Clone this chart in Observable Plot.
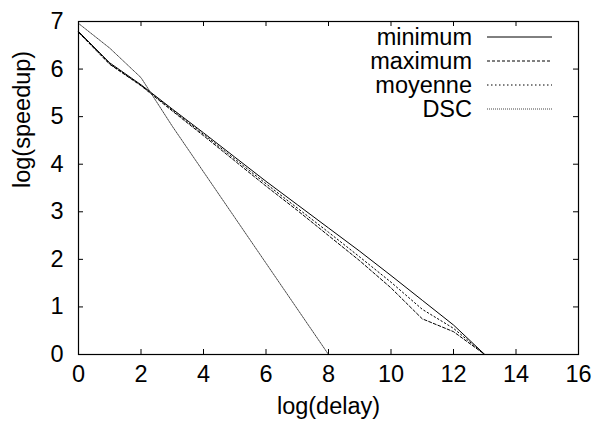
<!DOCTYPE html>
<html>
<head>
<meta charset="utf-8">
<script src="https://cdn.jsdelivr.net/npm/d3@7"></script>
<script src="https://cdn.jsdelivr.net/npm/@observablehq/plot@0.6"></script>
<style>
  html, body { margin: 0; padding: 0; background: #fff; }
  #chart svg { display: block; }
</style>
</head>
<body>
<div id="chart"></div>
<script>
// ---- data ----
const delay = [0, 1, 2, 3, 4, 5, 6, 7, 8, 9, 10, 11, 12, 13, 14, 15];
const minimum = [6.79, 6.13, 5.67, 5.16, 4.66, 4.15, 3.64, 3.15, 2.66, 2.17, 1.66, 1.14, 0.62, 0, 0, 0];
const maximum = [6.77, 6.10, 5.65, 5.12, 4.60, 4.07, 3.54, 3.03, 2.50, 1.97, 1.40, 0.75, 0.48, 0, 0, 0];
const moyenne = [6.78, 6.11, 5.66, 5.14, 4.63, 4.11, 3.59, 3.08, 2.57, 2.05, 1.52, 0.95, 0.55, 0, 0, 0];
const dscDelay = [0, 1, 2, 3, 4, 5, 6, 7, 8];
const dsc = [6.96, 6.44, 5.82, 4.80, 3.84, 2.88, 1.92, 0.96, 0];
const seriesNames = ["minimum", "maximum", "moyenne", "DSC"];
const xTicks = [0, 2, 4, 6, 8, 10, 12, 14, 16];
const yTicks = [0, 1, 2, 3, 4, 5, 6, 7];

const dashes = {minimum: null, maximum: "3,2", moyenne: "1.5,2.5", DSC: "1,1"};
const colors = {minimum: "#000", maximum: "#000", moyenne: "#000", DSC: "#444"};

const rows = [];
delay.forEach((d, i) => {
  rows.push({s: "minimum", x: d, y: minimum[i]});
  rows.push({s: "maximum", x: d, y: maximum[i]});
  rows.push({s: "moyenne", x: d, y: moyenne[i]});
});
dscDelay.forEach((d, i) => rows.push({s: "DSC", x: d, y: dsc[i]}));

const W = 597, H = 431;
const mL = 78, mR = 19, mT = 21, mB = 77;
const pw = W - mL - mR, ph = H - mT - mB;
const tl = 5;
const FONT = "'Liberation Sans', Arial, sans-serif";
const FS = 23.5;

const lineMarks = seriesNames.map(name => Plot.line(rows.filter(r => r.s === name), {
  x: "x", y: "y", stroke: colors[name], strokeWidth: 1,
  strokeDasharray: dashes[name]
}));

const chart = Plot.plot({
  width: W, height: H,
  marginLeft: mL, marginRight: mR, marginTop: mT, marginBottom: mB,
  style: {fontFamily: FONT, fontSize: FS + "px", background: "#fff", color: "#000"},
  x: {domain: [0, 16], axis: null},
  y: {domain: [0, 7], axis: null},
  marks: [
    // inward ticks on all four sides
    Plot.tickX(xTicks, {x: d => d, insetTop: ph - tl, stroke: "#000"}),
    Plot.tickX(xTicks, {x: d => d, insetBottom: ph - tl, stroke: "#000"}),
    Plot.tickY(yTicks, {y: d => d, insetRight: pw - tl, stroke: "#000"}),
    Plot.tickY(yTicks, {y: d => d, insetLeft: pw - tl, stroke: "#000"}),
    ...lineMarks,
    Plot.frame({stroke: "#000", strokeWidth: 1.2}),
    // tick labels
    Plot.text(xTicks, {x: d => d, frameAnchor: "bottom", dy: 27, text: d => String(d), fill: "#000"}),
    Plot.text(yTicks, {y: d => d, frameAnchor: "left", dx: -15, textAnchor: "end", text: d => String(d), fill: "#000"}),
    // axis titles
    Plot.text(["log(delay)"], {frameAnchor: "bottom", dy: 59, text: d => d, fill: "#000"}),
    Plot.text(["log(speedup)"], {frameAnchor: "left", dx: -56, rotate: -90, text: d => d, fill: "#000"})
  ]
});

document.getElementById("chart").appendChild(chart);

// legend (gnuplot style, inside top right)
const svg = d3.select(chart);
const lg = svg.append("g").attr("font-family", FONT).attr("font-size", FS);
seriesNames.forEach((name, i) => {
  const y = 37 + i * 24;
  lg.append("text").attr("x", 472).attr("y", y).attr("dy", "0.35em")
    .attr("text-anchor", "end").attr("fill", "#000").text(name);
  lg.append("line").attr("x1", 487).attr("x2", 552).attr("y1", y).attr("y2", y)
    .attr("stroke", colors[name]).attr("stroke-width", 1)
    .attr("stroke-dasharray", dashes[name]);
});
</script>
</body>
</html>
